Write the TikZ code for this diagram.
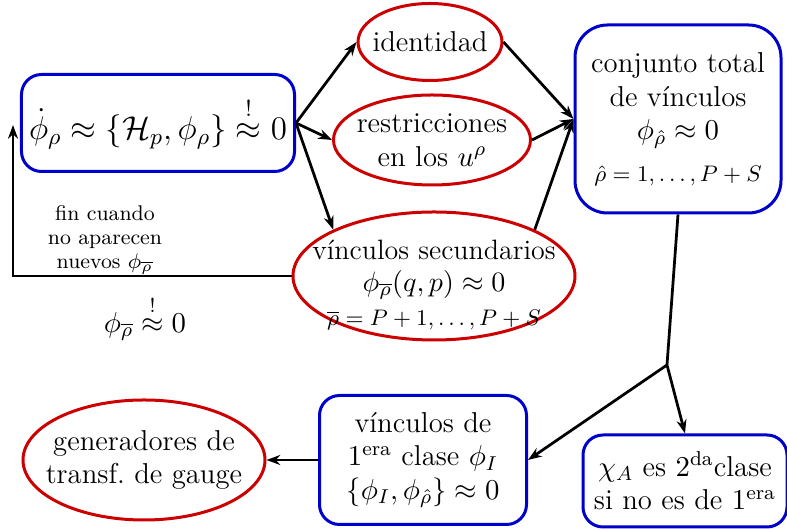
\RequirePackage{fix-cm}
\documentclass[tikz,border=0pt]{standalone}
\usepackage{amsmath,amssymb}
\usepackage{fontspec}
\usepackage{tikz}
\usetikzlibrary{arrows.meta,positioning,calc,shapes.geometric}
\definecolor{nodeblue}{HTML}{0000CC}
\definecolor{nodered}{HTML}{CC0000}
\tikzset{
  >={Stealth[length=5.5pt,width=4pt]},
  % cajas y elipses
  bx/.style={rectangle,rounded corners=8pt,draw=nodeblue,line width=1.2pt,
             align=center,inner sep=0pt,font=\fontsize{11.5}{13.5}\selectfont},
  el/.style={ellipse,draw=nodered,line width=1.2pt,inner sep=0pt},
  et/.style={align=center,font=\fontsize{11.5}{13.5}\selectfont},
  fl/.style={->,draw=black,line width=1.1pt},
  ln/.style={draw=black,line width=1.1pt},
  sm/.style={font=\fontsize{8.5}{9.5}\selectfont},
}

\begin{document}
\begin{tikzpicture}[x=0.4pt,y=-0.4pt]
  \useasboundingbox (0,0) rectangle (787,530);
  % fila superior
  \node[bx,minimum width=109.2pt,minimum height=38.8pt,
        font=\fontsize{13.2}{16}\selectfont] (phidot) at (158,123)
    {$\dot\phi_\rho \approx \{\mathcal{H}_p,\phi_\rho\} \overset{!}{\approx} 0$};
  \node[el,minimum width=57.6pt,minimum height=30.8pt,
        label={[et]center:identidad}] (ident) at (430,42) {};
  \node[el,minimum width=78.8pt,minimum height=36pt,
        label={[et]center:restricciones\\en los $u^\rho$}] (restr) at (432,140) {};
  \node[el,minimum width=112.8pt,minimum height=51.2pt,
        label={[et,font=\fontsize{11.2}{13}\selectfont,yshift=-3.5pt]center:v\'inculos secundarios\\$\phi_{\overline{\rho}}(q,p)\approx 0$\\[0.5pt]
          {\fontsize{9}{10}\selectfont$\overline{\rho}=P+1,\ldots,P+S$}}] (secund) at (434,276) {};
  \node[bx,rounded corners=13pt,minimum width=82.4pt,minimum height=75.2pt] (total) at (678,119)
    {conjunto total\\de v\'inculos\\$\phi_{\hat\rho}\approx 0$\\[3pt]
     {\fontsize{9}{10}\selectfont$\hat\rho=1,\ldots,P+S$}};
  % textos sueltos
  \node[sm,align=center] (fin) at (105,240) {fin cuando\\no aparecen\\nuevos $\phi_{\overline{\rho}}$};
  \node[et] (cond) at (145,318) {$\phi_{\overline{\rho}} \overset{!}{\approx} 0$};
  % fila inferior
  \node[bx,minimum width=82.8pt,minimum height=51.6pt] (primera) at (423,460)
    {v\'inculos de\\$1^{\mathrm{era}}$ clase $\phi_I$\\$\{\phi_I,\phi_{\hat\rho}\}\approx 0$};
  \node[bx,minimum width=81.6pt,minimum height=36.8pt] (segunda) at (685,481)
    {$\chi_A$ es $2^{\mathrm{da}}$clase\\si no es de $1^{\mathrm{era}}$};
  \node[el,minimum width=96.8pt,minimum height=48pt,
        label={[et]center:generadores de\\transf.\ de gauge}] (gener) at (144,460) {};
  \coordinate (back) at (13,125);
  \coordinate (split) at (667,365);
  % flechas
  \draw[fl] (phidot.east) -- (ident.west);
  \draw[fl] (phidot.east) -- (restr.west);
  \draw[fl] (phidot.east) -- (secund.north west);
  \draw[fl] (ident.east) -- (total.west);
  \draw[fl] (restr.east) -- (total.west);
  \draw[fl] (secund.north east) -- (total.west);
  \draw[fl] (secund.west) -| (back);
  \draw[ln] (total.south) -- (split);
  \draw[fl] (split) -- (primera.east);
  \draw[fl] (split) -- (segunda.north);
  \draw[fl] (primera.west) -- (gener.east);
\end{tikzpicture}
\end{document}
